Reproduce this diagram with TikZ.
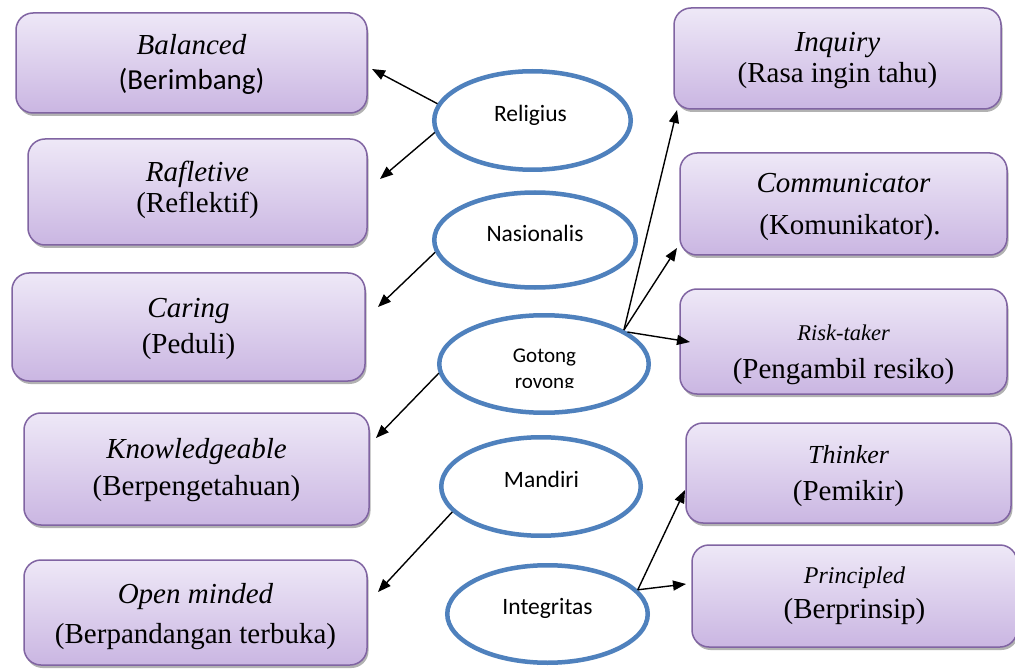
\documentclass[tikz,border=0pt]{standalone}
\usepackage{fontspec}
\setmainfont{Liberation Serif}
\newfontfamily\calfont{Carlito}
\usetikzlibrary{arrows.meta,shapes.geometric,shadows}
\definecolor{boxtop}{RGB}{238,232,247}
\definecolor{boxbot}{RGB}{202,182,226}
\definecolor{boxline}{RGB}{128,100,162}
\definecolor{ellline}{RGB}{79,129,189}
\tikzset{
  box/.style={rectangle, rounded corners=17pt, draw=boxline, line width=1.5pt,
    top color=boxtop, bottom color=boxbot, inner sep=0pt,
    drop shadow={shadow xshift=1.5pt, shadow yshift=-3pt, opacity=0.3, fill=black}},
  oval/.style={ellipse, draw=ellline, line width=4.5pt, fill=white, inner sep=0pt},
  ittext/.style={anchor=base, inner sep=0pt, font=\fontsize{29}{29}\selectfont\itshape},
  rmtext/.style={anchor=base, inner sep=0pt, font=\fontsize{29}{29}\selectfont},
  etext/.style={anchor=base, inner sep=0pt, font=\calfont\fontsize{23.5}{23.5}\selectfont},
  arr/.style={line width=1.4pt, -{Triangle[length=13pt,width=10pt]}},
}
\begin{document}
\begin{tikzpicture}[x=1pt,y=-1pt]
\useasboundingbox[fill=white] (0,0) rectangle (1015,671);

% left boxes
\node[box, minimum width=351pt, minimum height=100pt] (bal) at (191.5,63) {};
\node[ittext] (balA) at (191.5,55) {Balanced};
\node[rmtext, font=\calfont\fontsize{29}{29}\selectfont] (balB) at (191.5,90) {(Berimbang)};

\node[box, minimum width=339pt, minimum height=106pt] (raf) at (197.5,192) {};
\node[ittext] (rafA) at (197.5,182) {Rafletive};
\node[rmtext] (rafB) at (197.5,213) {(Reflektif)};

\node[box, minimum width=353pt, minimum height=108pt] (car) at (188.5,327) {};
\node[ittext] (carA) at (188.5,317) {Caring};
\node[rmtext] (carB) at (188.5,353) {(Peduli)};

\node[box, minimum width=345pt, minimum height=112pt] (kno) at (196.5,469) {};
\node[ittext] (knoA) at (196.5,458) {Knowledgeable};
\node[rmtext] (knoB) at (196.5,495) {(Berpengetahuan)};

\node[box, minimum width=343pt, minimum height=105pt] (opn) at (195.5,612.5) {};
\node[ittext] (opnA) at (195.5,603) {Open minded};
\node[rmtext] (opnB) at (195.5,643) {(Berpandangan terbuka)};

% right boxes
\node[box, minimum width=327pt, minimum height=101pt] (inq) at (837.5,58.5) {};
\node[ittext] (inqA) at (837.5,52) {Inquiry};
\node[rmtext] (inqB) at (837.5,83) {(Rasa ingin tahu)};

\node[box, minimum width=327pt, minimum height=102pt] (com) at (843.5,204) {};
\node[ittext] (comA) at (843.5,193) {Communicator};
\node[rmtext] (comB) at (850,235) {(Komunikator).};

\node[box, minimum width=327pt, minimum height=105pt] (ris) at (843.5,341.5) {};
\node[ittext, font=\fontsize{22.5}{22.5}\selectfont\itshape] (risA) at (843.5,340) {Risk-taker};
\node[rmtext] (risB) at (843.5,378) {(Pengambil resiko)};

\node[box, minimum width=325pt, minimum height=100pt] (thi) at (848.5,473) {};
\node[ittext, font=\fontsize{26}{26}\selectfont\itshape] (thiA) at (848.5,463) {Thinker};
\node[rmtext] (thiB) at (848.5,500) {(Pemikir)};

\node[box, minimum width=325pt, minimum height=102pt] (pri) at (854.5,596) {};
\node[ittext, font=\fontsize{24}{24}\selectfont\itshape] (priA) at (854.5,583) {Principled};
\node[rmtext] (priB) at (854.5,618) {(Berprinsip)};

% ellipses
\node[oval, minimum width=196.5pt, minimum height=98.5pt] (rel) at (532.5,120.5) {};
\node[etext] (relT) at (530.5,122) {Religius};
\node[oval, minimum width=201.5pt, minimum height=95pt] (nas) at (535,240) {};
\node[etext] (nasT) at (535,242) {Nasionalis};
\node[oval, minimum width=209.5pt, minimum height=97.5pt] (got) at (544,364) {};
\begin{scope}
  \clip (440,335) rectangle (650,387);
  \node[etext, font=\calfont\fontsize{21}{21}\selectfont] (gotA) at (544.5,362) {Gotong};
  \node[etext, font=\calfont\fontsize{21}{21}\selectfont] (gotB) at (544.5,388) {rovong};
\end{scope}
\node[oval, minimum width=199.5pt, minimum height=98.5pt] (man) at (541,486.5) {};
\node[etext] (manT) at (541.5,487) {Mandiri};
\node[oval, minimum width=200.5pt, minimum height=97.5pt] (int) at (547.5,614) {};
\node[etext] (intT) at (547.5,614) {Integritas};

% arrow tips
\coordinate (t1) at (372,69);
\coordinate (t2) at (380,179);
\coordinate (t3) at (378,307);
\coordinate (t4) at (376,438);
\coordinate (t5) at (378,592);
\coordinate (t6) at (677,110);
\coordinate (t7) at (677,248);
\coordinate (t8) at (690,342);
\coordinate (t9) at (685,490);
\coordinate (t10) at (686,584);

\draw[arr] (rel.170) -- (t1);
\draw[arr] (rel.187) -- (t2);
\draw[arr] (nas.187) -- (t3);
\draw[arr] (got.185) -- (t4);
\draw[arr] (man.196) -- (t5);
\draw[arr] (got.23) -- (t6);
\draw[arr] (got.23) -- (t7);
\draw[arr] (got.21) -- (t8);
\draw[arr] (int.15) -- (t9);
\draw[arr] (int.15) -- (t10);
\end{tikzpicture}
\end{document}
